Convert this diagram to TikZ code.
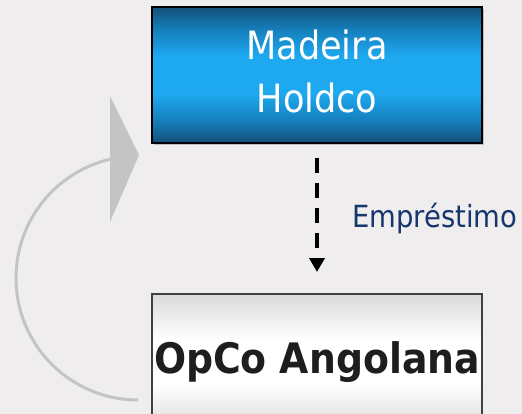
\documentclass[tikz,border=0pt]{standalone}
\usepackage{fontspec}
\setmainfont{DejaVu Sans Condensed}
\usetikzlibrary{arrows.meta}
\definecolor{bg}{RGB}{239,237,237}
\definecolor{bdark}{RGB}{18,80,120}
\definecolor{bmid}{RGB}{22,130,192}
\definecolor{bbright}{RGB}{30,168,240}
\definecolor{gedge}{RGB}{218,218,218}
\definecolor{arcgray}{RGB}{196,196,196}
\definecolor{loantext}{RGB}{22,55,110}
\pgfdeclareverticalshading{blueband}{100bp}{color(0bp)=(bdark); color(25bp)=(bdark); color(34bp)=(bmid); color(43bp)=(bbright); color(57bp)=(bbright); color(66bp)=(bmid); color(75bp)=(bdark); color(100bp)=(bdark)}
\pgfdeclareverticalshading{greyband}{100bp}{color(0bp)=(gedge); color(25bp)=(gedge); color(42bp)=(white); color(58bp)=(white); color(75bp)=(gedge); color(100bp)=(gedge)}
\tikzset{
  x=1pt, y=-1pt,
  holdbox/.style={shading=blueband, draw=black, line width=2pt, minimum width=330pt, minimum height=136pt, inner sep=0pt, text=white, font=\fontsize{39}{53}\selectfont},
  opbox/.style={shading=greyband, draw={rgb,255:red,64;green,64;blue,64}, line width=2pt, minimum width=330pt, minimum height=136pt, inner sep=0pt, text={rgb,255:red,30;green,30;blue,30}, font=\fontsize{42}{50}\selectfont\bfseries},
  loanarrow/.style={line width=4pt, dash pattern=on 15pt off 10pt, -{Triangle[width=15pt,length=14pt]}},
  looparc/.style={draw=arcgray, line width=3pt},
}
\begin{document}
\begin{tikzpicture}
\useasboundingbox (0,0) rectangle (522,414);
\fill[bg] (0,0) rectangle (522,414);
% shadow
\fill[black!25] (154,9) rectangle (484,145);
\node[holdbox] (madeira) at (317,75) {\begin{tabular}{@{}c@{}}Madeira\\Holdco\end{tabular}};
\node[opbox] (opco) at (317,362) {OpCo Angolana};
\draw[loanarrow, shorten <=14pt, shorten >=21pt] (madeira.south) -- (opco.north);
\node[anchor=base west, text=loantext, font=\fontsize{30.5}{36}\selectfont, inner sep=0pt] (loan) at (352,228) {Empréstimo};
% loop arrow
\coordinate (arcstart) at (138,400);
\draw[looparc] (arcstart) arc[start angle=90, end angle=257, radius=122] coordinate (arcend);
\fill[arcgray] (110,96) -- (110,222) -- (139,155) -- cycle;
\end{tikzpicture}
\end{document}
